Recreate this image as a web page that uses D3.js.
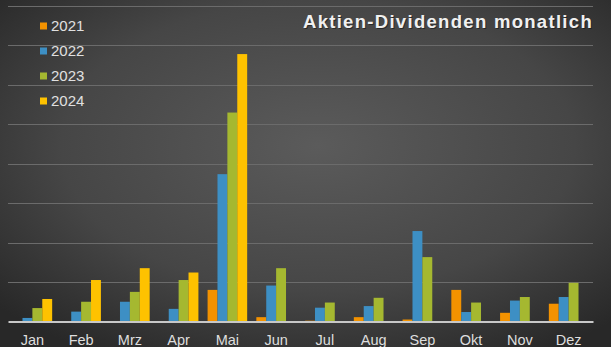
<!DOCTYPE html>
<html>
<head>
<meta charset="utf-8">
<script src="https://cdn.jsdelivr.net/npm/d3@7"></script>
<style>
html,body{margin:0;padding:0;background:#3a3a3a;}
svg{display:block;}
</style>
</head>
<body>
<svg id="chart" width="611" height="347"></svg>
<script>
const months = ["Jan","Feb","Mrz","Apr","Mai","Jun","Jul","Aug","Sep","Okt","Nov","Dez"];
const seriesNames = ["2021","2022","2023","2024"];
const v2021 = [0,0,0,0,80,11,2,11,5,80,22,45];
const v2022 = [9,25,50,32,373,91,35,39,229,24,53,62];
const v2023 = [34,50,75,105,529,135,48,60,163,48,62,98];
const v2024 = [57,105,135,124,677,null,null,null,null,null,null,null];
const colors = ["#f39200","#3d8fc4","#a5b830","#fec200"];
const gridTicks = [100,200,300,400,500,600,700,800];
const title = "Aktien-Dividenden monatlich";

const W = 611, H = 347;
const svg = d3.select("#chart");
const defs = svg.append("defs");
const rg = defs.append("radialGradient").attr("id","bg")
  .attr("cx","52%").attr("cy","42%").attr("r","70%");
rg.append("stop").attr("offset","0%").attr("stop-color","#5b5b5b");
rg.append("stop").attr("offset","60%").attr("stop-color","#464646");
rg.append("stop").attr("offset","100%").attr("stop-color","#282828");
svg.append("rect").attr("width",W).attr("height",H).attr("fill","url(#bg)");

const pL = 8, pR = 593, pT = 5.5, pB = 321.5;
const x0 = d3.scaleBand().domain(months).range([pL,pR]).paddingInner(0.188).paddingOuter(0.094);
const x1 = d3.scaleBand().domain(seriesNames).range([0,x0.bandwidth()]);
const y = d3.scaleLinear().domain([0,800]).range([pB,pT]);

// gridlines
svg.append("g").selectAll("line").data(gridTicks).join("line")
  .attr("x1",pL).attr("x2",pR)
  .attr("y1",d=>Math.round(y(d))+0.5).attr("y2",d=>Math.round(y(d))+0.5)
  .attr("stroke","#6b6b6b").attr("stroke-width",1);

const data = [v2021,v2022,v2023,v2024];
const bars = svg.append("g");
seriesNames.forEach((s,i)=>{
  bars.append("g").attr("fill",colors[i]).selectAll("rect")
    .data(months.map((m,j)=>({m, v:data[i][j]})).filter(d=>d.v!=null && d.v>0))
    .join("rect")
    .attr("x",d=>x0(d.m)+x1(s))
    .attr("width",x1.bandwidth())
    .attr("y",d=>y(d.v))
    .attr("height",d=>y(0)-y(d.v));
});

// baseline axis
const xAxis = d3.axisBottom(x0).tickSize(0).tickPadding(13);
const ax = svg.append("g").attr("transform",`translate(0,${pB})`).call(xAxis);
ax.select(".domain").attr("stroke","#c8c8c8").attr("stroke-width",2);
ax.selectAll("text").attr("fill","#dedede").attr("font-family","Liberation Sans, Arial, sans-serif").attr("font-size",14.5);

// legend
const lg = svg.append("g");
seriesNames.forEach((s,i)=>{
  const yy = 26 + i*25;
  lg.append("rect").attr("x",40).attr("y",yy-3.5).attr("width",7).attr("height",7).attr("fill",colors[i]);
  lg.append("text").attr("x",51).attr("y",yy+5.3).text(s)
    .attr("fill","#e0e0e0").attr("font-family","Liberation Sans, Arial, sans-serif").attr("font-size",15);
});

// title
svg.append("text").attr("x",593).attr("y",28).attr("text-anchor","end")
  .attr("fill","#151515").attr("opacity",0.6)
  .attr("transform","translate(1,1)")
  .attr("font-family","Liberation Sans, Arial, sans-serif").attr("font-weight","bold")
  .attr("font-size",18.5).attr("letter-spacing",1.3).text(title);
svg.append("text").attr("x",593).attr("y",28).attr("text-anchor","end")
  .attr("fill","#f0f0f0")
  .attr("font-family","Liberation Sans, Arial, sans-serif").attr("font-weight","bold")
  .attr("font-size",18.5).attr("letter-spacing",1.3).text(title);
</script>
</body>
</html>
